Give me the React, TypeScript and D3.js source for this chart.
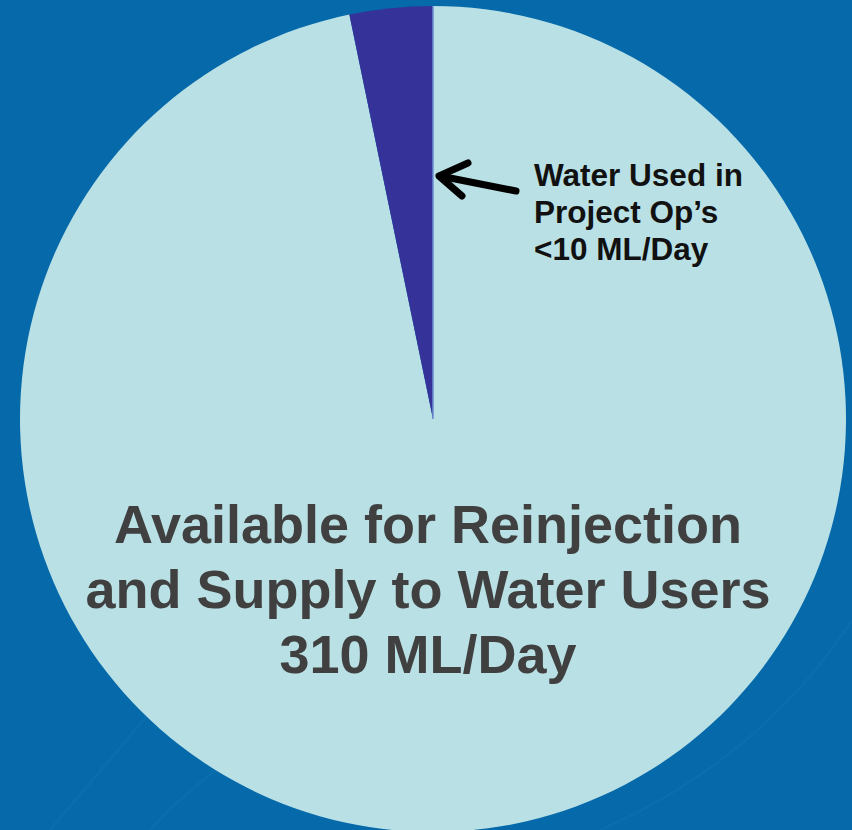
import React from "react";
import * as d3 from "d3";

const categories = ["Available for Reinjection and Supply to Water Users", "Water Used in Project Op's"];
const values = [310, 10.4];
const colors = ["#B9E0E4", "#353399"];
const mainLabel = ["Available for Reinjection", "and Supply to Water Users", "310 ML/Day"];
const smallLabel = ["Water Used in", "Project Op\u2019s", "<10 ML/Day"];

export default function App() {
  const W = 852, H = 830;
  const cx = 433, cy = 419, r = 413;
  const pie = d3.pie<number>().sort(null).startAngle(0).endAngle(2 * Math.PI);
  const arcs = pie(values);
  const arc = d3.arc<d3.PieArcDatum<number>>().innerRadius(0).outerRadius(r);
  const darkEnd = arcs[1].endAngle;
  const ex = cx + r * Math.sin(darkEnd), ey = cy - r * Math.cos(darkEnd);
  const font = "Liberation Sans, Arial, Helvetica, sans-serif";
  return (
    <svg width={W} height={H} style={{ position: "absolute", left: 0, top: 0 }}>
      <rect x={0} y={0} width={W} height={H} fill="#0569AA" />
      <path d="M 150 830 Q 250 720 400 690" fill="none" stroke="#0C6FB0" strokeWidth={3} opacity={0.6} />
      <path d="M 50 830 Q 110 760 160 700" fill="none" stroke="#0C6FB0" strokeWidth={3} opacity={0.6} />
      <path d="M 600 830 Q 760 760 852 620" fill="none" stroke="#0C6FB0" strokeWidth={3} opacity={0.6} />
      <g transform={`translate(${cx},${cy})`}>
        {arcs.map((a, i) => (
          <path key={categories[i]} d={arc(a) || ""} fill={colors[i]} />
        ))}
      </g>
      <line x1={cx} y1={cy} x2={ex} y2={ey} stroke="#6C8FD0" strokeWidth={1.5} />
      <g fill="none" stroke="#000" strokeWidth={7} strokeLinecap="round" strokeLinejoin="round">
        <line x1={516} y1={191} x2={440} y2={176} />
        <polyline points="468,163 439,176 462,196" />
      </g>
      <g fontFamily={font} fontWeight="bold" fill="#111" fontSize={31.5}>
        {smallLabel.map((t, i) => (
          <text key={t} x={534} y={186 + i * 37}>{t}</text>
        ))}
      </g>
      <g fontFamily={font} fontWeight="bold" fill="#404040" fontSize={54} textAnchor="middle">
        {mainLabel.map((t, i) => (
          <text key={t} x={428} y={543 + i * 65}>{t}</text>
        ))}
      </g>
    </svg>
  );
}
